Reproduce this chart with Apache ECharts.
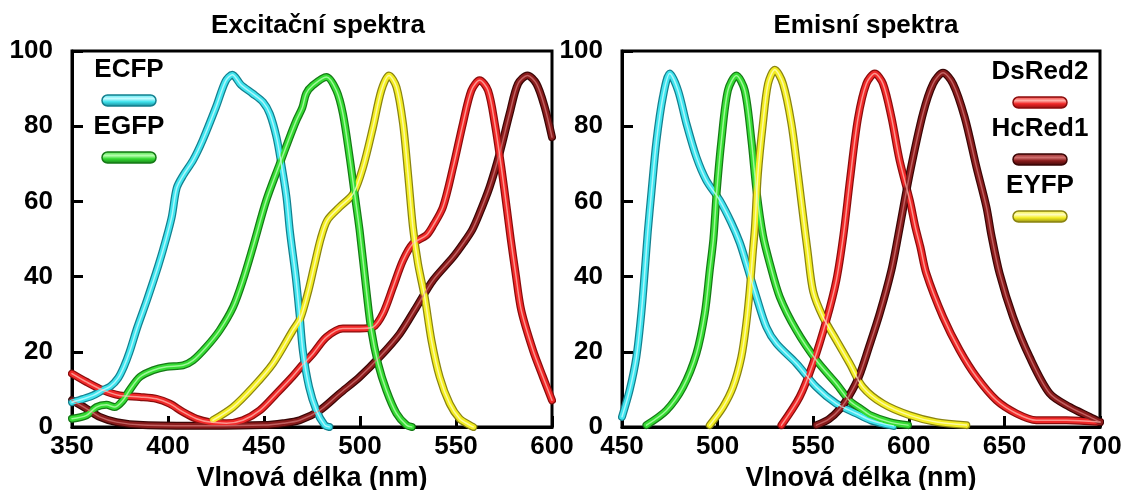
<!DOCTYPE html>
<html>
<head>
<meta charset="utf-8">
<script src="https://cdn.jsdelivr.net/npm/echarts@6/dist/echarts.min.js"></script>
<style>
html,body{margin:0;padding:0;background:#fff;}
#c{width:1132px;height:490px;}
</style>
</head>
<body>
<div id="c"></div>
<script>
// ---------- DATA ----------
const titles = ['Excitační spektra', 'Emisní spektra'];
const xAxisName = 'Vlnová délka (nm)';
const leftLegend = ['ECFP', 'EGFP'];
const rightLegend = ['DsRed2', 'HcRed1', 'EYFP'];

// Excitation spectra [wavelength nm, relative intensity]
const exECFP = [[350,6.6],[356,7.5],[361,8.4],[366,9.8],[370,10.8],[374,13],[377,16],[380,20],[384,26.5],[389,33.7],[395,43],[399,50],[402,56],[404.5,63.5],[408,67],[413,70.9],[418,76.2],[425,85.1],[430,92],[433.5,93.7],[438,91],[444,88.7],[449.5,86.4],[453,83.3],[456.5,77.1],[459,70],[461.7,61.2],[463.5,52],[466.5,40],[468.5,30],[470.3,20],[473.5,10.6],[477.3,4.4],[481.6,0.5],[484,0]];
const exEGFP = [[350,2.2],[357.5,3.1],[362.7,5.3],[367.9,5.9],[372.2,5.3],[376.6,7.1],[380,9.8],[385.3,13.3],[392.2,15.1],[399.2,16],[407.8,16.4],[413,17.7],[420,21.3],[426.9,25.7],[433.9,31.9],[439,39],[444.3,48],[451.2,60.3],[458.2,70],[463.4,77.1],[466.9,81.6],[470,85],[472,88.7],[475.5,90.9],[482.5,93.1],[487.7,89.5],[491.1,83.3],[494.6,71.8],[497.2,62],[499.8,52.3],[503.3,36.4],[505.9,25.7],[509.4,16.9],[513.7,9.8],[519,3.6],[524.2,0.5],[527,0]];
const exEYFP = [[423.4,1.8],[433.9,5.3],[444.3,10.6],[454.7,16.9],[465,25.7],[469,29],[473,36],[476,42.5],[479.5,50],[483,55],[489.4,58.5],[496.4,62],[501.6,69.1],[506.8,79.8],[511.1,89.5],[515.1,93.5],[519,90.4],[522.4,80.7],[525,67.4],[527.6,53],[530.2,43.5],[533.7,34.6],[537.2,23.1],[541.5,13.3],[546.7,6.2],[551.9,2.2],[557.1,0.5],[559,0]];
const exDsRed2 = [[350,14.2],[357.5,12],[366.1,9.8],[374.8,8.4],[385.3,8],[394,7.5],[400.9,6.2],[407.8,4],[414.8,2.2],[421.7,1.3],[430.4,1],[439,1.8],[447.8,4.4],[456.5,8.9],[465,13.5],[470,16.5],[475.5,19.5],[482.5,23.9],[491.1,26.2],[499.8,26.2],[506.8,26.6],[512,30.2],[517.2,37.2],[522.4,44.3],[527.6,48.8],[534.6,51],[538,53.5],[543.2,58.5],[548.5,69.1],[553.6,80.7],[558,89.5],[562.3,92.2],[566.7,89.5],[570.2,80.7],[573.6,69.1],[576.5,58],[578.5,50],[581,41],[584,31],[590.1,20.4],[595.3,13.3],[600,7.1]];
const exHcRed1 = [[350,7.1],[357.5,4.9],[364.4,2.7],[373.1,1.3],[387,0.5],[420,0.3],[450,0.5],[460,1],[468.6,1.8],[479,4.4],[489.4,8.9],[499.8,13.3],[510.2,18.6],[520.7,24.8],[529.4,31.9],[538,39],[548.5,45.2],[554,49],[558.5,52.5],[562,56.5],[567.5,63.8],[572.7,72.7],[577.9,83.3],[582.3,91.3],[587.2,93.5],[591.9,91.3],[596.2,85.1],[600,77.1]];

// Emission spectra [wavelength nm, relative intensity]
const emECFP = [[450,2.7],[454,9.8],[457.5,18.6],[460.1,30.2],[462,42],[463.5,52],[465.5,63],[468,76],[471.4,87.8],[475,94],[479.3,89.5],[483.7,80.7],[488.9,71.8],[494.1,65.6],[501.1,60.3],[507,54.5],[511.6,49],[515,43.5],[520.3,34.6],[525.5,26.6],[530.8,22.2],[541.2,16.9],[551.7,10.6],[562.1,6.2],[572.6,3.6],[580,1.8],[586.5,0.9],[592,0.3]];
const emEGFP = [[462.8,0.5],[473.2,4.4],[481.9,10.6],[488.9,19.5],[493.3,30.2],[495.9,41.7],[497.8,50],[499.6,63],[502,76.2],[505.4,89.5],[509.8,93.5],[514.2,89.5],[517.7,76.2],[520.3,63],[523.7,51],[527.3,43.5],[532.5,34.6],[541.2,25.7],[551.7,17.7],[562.1,11.5],[569,7],[575,4.8],[580,3.1],[590,1.3],[599.6,0.5]];
const emEYFP = [[495.9,0.5],[502.8,5.3],[508,10.6],[512.4,18.6],[515,27.5],[516.8,36.4],[518.5,47],[519.5,53],[521.1,67.4],[523.7,80.7],[526.4,91.3],[529.9,95],[534.2,91.3],[538.6,80.7],[542,67.4],[545,55],[547,47],[550,36],[555.1,29.3],[562.1,23.1],[569.1,16.9],[576,10.6],[586.5,6.2],[600.5,3.1],[614.4,1.3],[630.1,0.5]];
const emDsRed2 = [[533.4,0.5],[542.9,8],[549.9,16.9],[556.9,28.4],[562.1,39],[565.8,51],[569.3,66],[573.4,82],[577.8,91.3],[582.2,94],[586.5,91.3],[590.9,82.4],[595.2,70.9],[600.5,60.3],[603.5,53],[606,48],[609.2,40.8],[617.9,29.3],[626.6,20.4],[635.4,13.3],[645.8,7.1],[656.3,3.6],[666.7,1.8],[682.4,1.8],[700,1.3]];
const emHcRed1 = [[551.7,0.5],[558,2],[564,4.8],[569,8.5],[574,13.5],[579,21],[584.8,30.2],[590.9,41.7],[594.5,51],[600.5,67.4],[607.4,83.3],[612.7,91.3],[617.9,94.2],[623.1,91.3],[629.2,82.4],[635.4,69.1],[640.6,58.5],[643.2,51],[647.5,40.8],[654.5,29.3],[663.2,18.6],[673.7,8.9],[684.2,5.3],[694.6,2.7],[700,1.3]];

// ---------- STYLE ----------
const FONT = '"Liberation Sans", Arial, Helvetica, sans-serif';
const palette = {
  ECFP:   {main:'#3fe4ee', dark:'#14808f', light:'#c8fbff'},
  EGFP:   {main:'#35dc33', dark:'#157a16', light:'#b8ffb0'},
  EYFP:   {main:'#f4ee22', dark:'#8a8410', light:'#fffdc0'},
  DsRed2: {main:'#f02828', dark:'#8a0c0c', light:'#ffb0a8'},
  HcRed1: {main:'#8a1c1c', dark:'#3a0606', light:'#d07070'}
};

function tube(name, data, gi) {
  const c = palette[name];
  const base = {type:'line', name:name, data:data, xAxisIndex:gi, yAxisIndex:gi,
    showSymbol:false, symbol:'none', smooth:0.3, silent:true, animation:false};
  return [
    Object.assign({}, base, {lineStyle:{color:c.dark, width:8, cap:'round', join:'round'}, z:2}),
    Object.assign({}, base, {lineStyle:{color:c.main, width:5.5, cap:'round', join:'round'}, z:3}),
    Object.assign({}, base, {lineStyle:{color:c.light, width:1.5, opacity:0.8, cap:'round', join:'round'}, z:4})
  ];
}

const series = [].concat(
  tube('HcRed1', exHcRed1, 0), tube('DsRed2', exDsRed2, 0), tube('ECFP', exECFP, 0),
  tube('EYFP', exEYFP, 0), tube('EGFP', exEGFP, 0),
  tube('ECFP', emECFP, 1), tube('EGFP', emEGFP, 1), tube('EYFP', emEYFP, 1),
  tube('DsRed2', emDsRed2, 1), tube('HcRed1', emHcRed1, 1)
);

const labelStyle = {color:'#000', fontFamily:FONT, fontWeight:'bold', fontSize:26};
function xAx(gi, min, max) {
  return {type:'value', gridIndex:gi, min:min, max:max, interval:50,
    name:xAxisName, nameLocation:'middle', nameGap:35,
    nameTextStyle:Object.assign({}, labelStyle, {fontSize:27}),
    axisLine:{show:true, onZero:false, lineStyle:{color:'#000', width:3}},
    axisTick:{show:true, inside:true, length:11, lineStyle:{color:'#000', width:3}},
    axisLabel:Object.assign({margin:7}, labelStyle),
    splitLine:{show:false}};
}
function yAx(gi) {
  return {type:'value', gridIndex:gi, min:0, max:100, interval:20,
    axisLine:{show:true, lineStyle:{color:'#000', width:3}},
    axisTick:{show:true, inside:true, length:11, lineStyle:{color:'#000', width:3}},
    axisLabel:Object.assign({margin:19}, labelStyle),
    splitLine:{show:false}};
}

function legendItems(names, cx, y0, step) {
  const els = [];
  names.forEach((n, i) => {
    const c = palette[n];
    const y = y0 + i * step;
    els.push({type:'text', silent:true, z:10, style:{text:n, x:cx, y:y, fill:'#000',
      font:'bold 26px ' + FONT, textAlign:'center', textVerticalAlign:'middle'}});
    els.push({type:'rect', silent:true, z:10,
      shape:{x:cx - 27, y:y + 25, width:54, height:11, r:5.5},
      style:{stroke:c.dark, lineWidth:1.5,
        fill:{type:'linear', x:0, y:0, x2:0, y2:1, colorStops:[
          {offset:0, color:c.main}, {offset:0.35, color:c.light}, {offset:0.6, color:c.main}, {offset:1, color:c.dark}]}}});
  });
  return els;
}

const gridBase = {top:51, bottom:63, show:true, borderColor:'#000', borderWidth:3,
  backgroundColor:'#fff', containLabel:false, outerBoundsMode:'none'};

const chart = echarts.init(document.getElementById('c'), null, {renderer:'canvas'});
chart.setOption({
  backgroundColor:'#fff',
  animation:false,
  title:[
    {text:titles[0], left:313, top:8, textAlign:'center', textStyle:Object.assign({}, labelStyle, {fontSize:26})},
    {text:titles[1], left:861, top:8, textAlign:'center', textStyle:Object.assign({}, labelStyle, {fontSize:26})}
  ],
  grid:[
    Object.assign({left:72, right:580}, gridBase),
    Object.assign({left:622, right:32}, gridBase)
  ],
  xAxis:[xAx(0, 350, 600), xAx(1, 450, 700)],
  yAxis:[yAx(0), yAx(1)],
  series:series,
  graphic:[].concat(legendItems(leftLegend, 129, 70, 57), legendItems(rightLegend, 1040, 72, 57))
});
</script>
</body>
</html>
